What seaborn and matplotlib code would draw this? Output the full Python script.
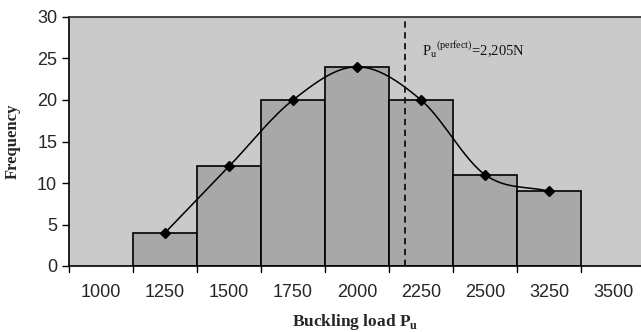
import numpy as np
import pandas as pd
import matplotlib
matplotlib.use("Agg")
import matplotlib.pyplot as plt
import seaborn as sns

categories = ["1000", "1250", "1500", "1750", "2000", "2250", "2500", "3250", "3500"]
bar_categories = ["1250", "1500", "1750", "2000", "2250", "2500", "3250"]
frequency = [4, 12, 20, 24, 20, 11, 9]
perfect_load_position = 4.75  # position of 2,205 N on the category axis
perfect_label = r"P$_{\mathregular{u}}$$^{\mathregular{(perfect)}}$=2,205N"

sns.set_theme(style="white")
plt.rcParams["font.family"] = ["Liberation Sans", "DejaVu Sans"]

fig = plt.figure(figsize=(6.41, 3.32), dpi=100)
ax = fig.add_axes([69/641, 1-266/332, 1-69/641, (266-17)/332])
ax.set_facecolor("#cacaca")

df = pd.DataFrame({"load": bar_categories, "freq": frequency})
sns.barplot(data=df, x="load", y="freq", order=categories, color="#a8a8a8",
            saturation=1, width=1.0, edgecolor="black", linewidth=1.2, ax=ax)

# smoothed curve (Catmull-Rom through the points)
pos = np.array([categories.index(c) for c in bar_categories], dtype=float)
val = np.array(frequency, dtype=float)
P = np.column_stack([pos, val])
Pext = np.vstack([2*P[0]-P[1], P, 2*P[-1]-P[-2]])
curve = []
t = np.linspace(0, 1, 30)
for i in range(1, len(Pext)-2):
    p0, p1, p2, p3 = Pext[i-1], Pext[i], Pext[i+1], Pext[i+2]
    for tt in t:
        pt = 0.5*((2*p1) + (-p0+p2)*tt + (2*p0-5*p1+4*p2-p3)*tt**2 + (-p0+3*p1-3*p2+p3)*tt**3)
        curve.append(pt)
curve = np.array(curve)
ax.plot(curve[:, 0], curve[:, 1], color="black", lw=1.1, zorder=4)
ax.plot(pos, val, linestyle="none", marker="D", color="black", markersize=5.5, zorder=5)

ax.axvline(perfect_load_position, color="#111111", lw=1.3, ls=(0, (3.5, 2.5)), zorder=6)
ax.text(5.02, 25.4, perfect_label, fontsize=10.5, family=["Liberation Serif"], color="#111111")

ax.set_xlim(-0.5, -0.5 + 572/64)
ax.set_ylim(0, 30)
ax.set_yticks(range(0, 31, 5))
ax.set_xticks(range(len(categories)))
ax.set_xticklabels(categories, fontsize=13)
ax.tick_params(axis="x", length=0, pad=13)
for b in np.arange(-0.5, 8.6, 1):
    ax.plot([b, b], [0, -0.025], transform=ax.get_xaxis_transform(), color="black",
            lw=1, clip_on=False)
ax.tick_params(axis="y", labelsize=13, length=5, width=1, direction="out", left=True, color="black")

for s in ["left", "bottom"]:
    ax.spines[s].set_color("black")
    ax.spines[s].set_linewidth(1.2)
ax.spines["top"].set_color("#333333")
ax.spines["top"].set_linestyle((0, (1, 1)))
ax.spines["right"].set_visible(False)

ax.set_xlabel(r"Buckling load P$_{\mathregular{u}}$", fontsize=12.5, fontweight="bold",
              family=["Liberation Serif"], labelpad=8)
ax.set_ylabel("Frequency", fontsize=12, fontweight="bold", family=["Liberation Serif"], labelpad=12)

fig.savefig("out.png", dpi=100)
